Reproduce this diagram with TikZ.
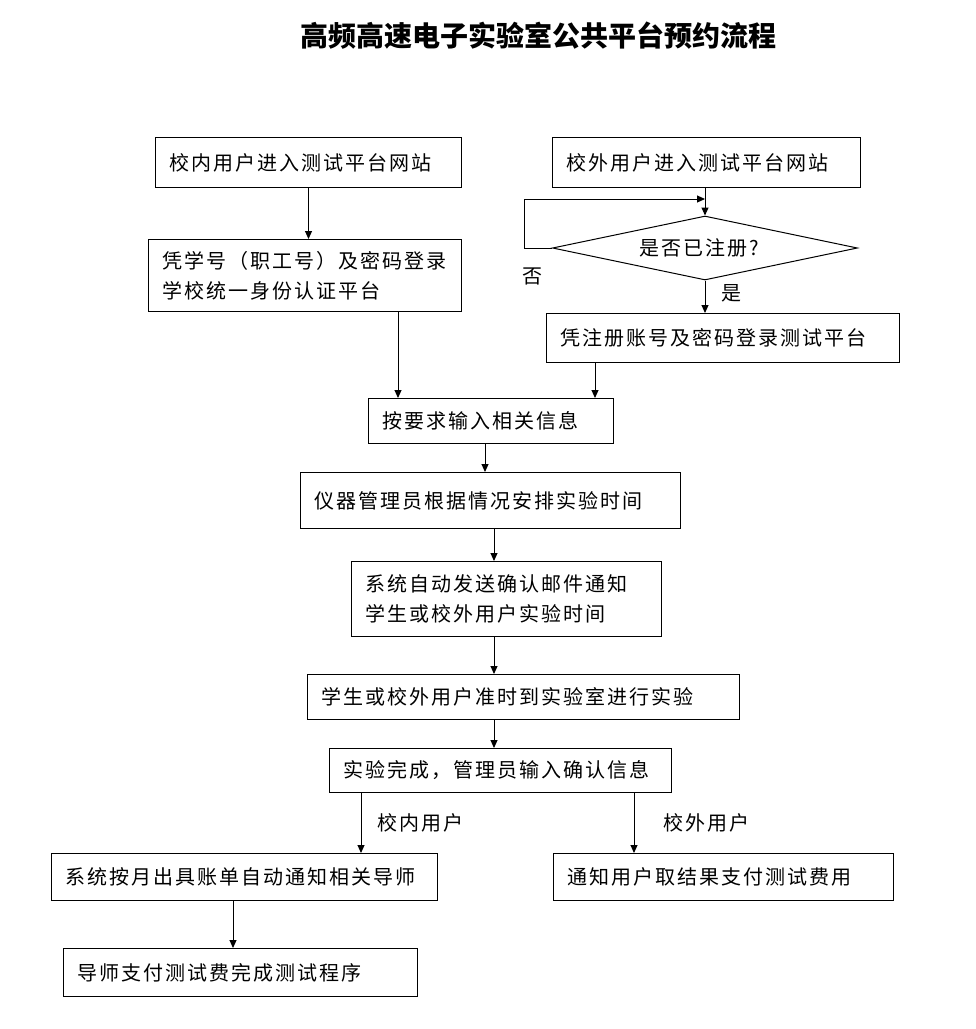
\documentclass[tikz,border=0pt]{standalone}
\usepackage{fontspec}
\setmainfont{Noto Sans CJK SC}
\usetikzlibrary{shapes.geometric,arrows.meta}
\newcommand\boxfont{\fontsize{20}{30}\selectfont\addfontfeature{LetterSpace=10}}
\tikzset{
  box/.style={draw, line width=1pt, anchor=north west, inner xsep=14pt, inner ysep=0pt, align=left, font=\boxfont},
  arr/.style={line width=1pt, -{Triangle[length=8pt,width=7pt]}},
  lbl/.style={font=\boxfont, inner sep=0pt}
}
\begin{document}
\begin{tikzpicture}[x=1pt,y=-1pt]
\fill[white] (0,0) rectangle (976,1029);
\useasboundingbox (0,0) rectangle (976,1029);
\node[font=\fontsize{28}{32}\selectfont\bfseries] (title) at (538,36) {高频高速电子实验室公共平台预约流程};

\node[box, text width=278pt, minimum height=50pt] (b1) at (155,137) {校内用户进入测试平台网站};
\node[box, text width=280pt, minimum height=50pt] (b2) at (552,137) {校外用户进入测试平台网站};
\node[box, text width=285pt, minimum height=72pt] (b3) at (148,239) {凭学号（职工号）及密码登录\\学校统一身份认证平台};
\node[draw, line width=1pt, diamond, aspect=4.8, inner sep=0pt, minimum width=305pt, minimum height=64pt, font=\boxfont] (d) at (705,248) {是否已注册?\hspace*{12pt}};
\node[box, text width=325pt, minimum height=49pt] (b5) at (546,313) {凭注册账号及密码登录测试平台};
\node[box, text width=217pt, minimum height=45pt] (b6) at (368,398) {按要求输入相关信息};
\node[box, text width=352pt, minimum height=56pt] (b7) at (300,472) {仪器管理员根据情况安排实验时间};
\node[box, text width=282pt, minimum height=75pt] (b8) at (351,561) {系统自动发送确认邮件通知\\学生或校外用户实验时间};
\node[box, text width=404pt, minimum height=45pt] (b9) at (307,674) {学生或校外用户准时到实验室进行实验};
\node[box, text width=314pt, minimum height=44pt] (b10) at (329,748) {实验完成，管理员输入确认信息};
\node[box, text width=358pt, minimum height=47pt] (b11) at (51,853) {系统按月出具账单自动通知相关导师};
\node[box, text width=312pt, minimum height=47pt] (b12) at (553,853) {通知用户取结果支付测试费用};
\node[box, text width=326pt, minimum height=48pt] (b13) at (63,948) {导师支付测试费完成测试程序};

\node[lbl] (no) at (532,276) {否};
\node[lbl] (yes) at (731,293) {是};
\node[lbl] (inn) at (420,823) {校内用户};
\node[lbl] (out) at (706,823) {校外用户};

\draw[arr] (b1.south) -- (b3.north -| b1.south);
\draw[arr] (b2.south -| d.north) -- (d.north);
\draw[arr] (d.west) -- ++(-28,0) |- (d.north |- 0,199);
\draw[arr] (d.south) -- (b5.north -| d.south);
\draw[arr] (b3.south -| 398,0) -- (b6.north -| 398,0);
\draw[arr] (b5.south -| 595,0) -- (b6.north -| 595,0);
\draw[arr] (b6.south -| 485,0) -- (b7.north -| 485,0);
\draw[arr] (b7.south -| 494,0) -- (b8.north -| 494,0);
\draw[arr] (b8.south -| 494,0) -- (b9.north -| 494,0);
\draw[arr] (b9.south -| 494,0) -- (b10.north -| 494,0);
\draw[arr] (b10.south -| 361,0) -- (b11.north -| 361,0);
\draw[arr] (b10.south -| 634,0) -- (b12.north -| 634,0);
\draw[arr] (b11.south -| 233,0) -- (b13.north -| 233,0);
\end{tikzpicture}
\end{document}
